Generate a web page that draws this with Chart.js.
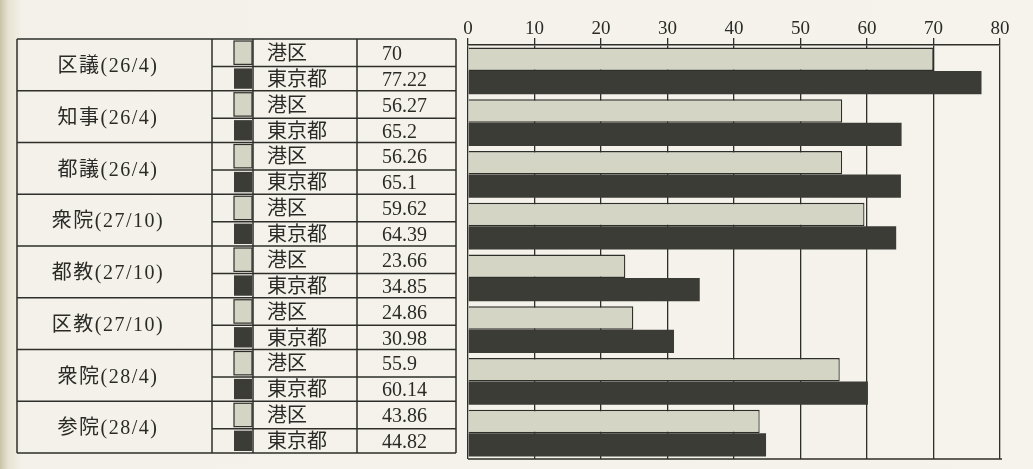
<!DOCTYPE html>
<html><head><meta charset="utf-8">
<script src="https://cdn.jsdelivr.net/npm/chart.js@4"></script>
<style>
html,body{margin:0;padding:0;background:#f4f2ea;}
#wrap{position:relative;width:1033px;height:469px;background:linear-gradient(to right,#c9c3a6 0px,#e6e2d2 8px,#f3f1e9 22px,#f5f3ec 100%);}
canvas{display:block;}
</style></head><body>
<div id="wrap"><canvas id="c" width="1033" height="469"></canvas></div>
<script>
const categories = ['区議(26/4)','知事(26/4)','都議(26/4)','衆院(27/10)','都教(27/10)','区教(27/10)','衆院(28/4)','参院(28/4)'];
const seriesNames = ['港区','東京都'];
const minato = [70, 56.27, 56.26, 59.62, 23.66, 24.86, 55.9, 43.86];
const tokyo = [77.22, 65.2, 65.1, 64.39, 34.85, 30.98, 60.14, 44.82];
const xMin = 0, xMax = 80, xStep = 10;

const LIGHT = '#d5d5c6', DARK = '#3c3c37', LINE = '#2e2e2a';
const SERIF = '"Liberation Serif","Noto Sans CJK JP",serif';

const tablePlugin = {
  id: 'table',
  afterDraw(chart) {
    const ctx = chart.ctx, y = chart.scales.y, area = chart.chartArea;
    const step = y.getPixelForValue(1) - y.getPixelForValue(0);
    const dy = -6;
    const cols = {L0: 17, L1: 212, S0: 233, S1: 253, V0: 357, R: 456};
    ctx.save();
    ctx.strokeStyle = LINE;
    ctx.lineWidth = 1.5;
    const top = y.getPixelForValue(0) - step/2 + dy;
    const bottom = y.getPixelForValue(categories.length-1) + step/2 + dy;
    [cols.L0, cols.L1, cols.S1, cols.V0, cols.R].forEach(x => {
      ctx.beginPath(); ctx.moveTo(x, top); ctx.lineTo(x, bottom); ctx.stroke();
    });
    categories.forEach((cat, i) => {
      const c = y.getPixelForValue(i) + dy;
      const g0 = c - step/2, g1 = c + step/2;
      const mid = c + 1.5;
      ctx.beginPath(); ctx.moveTo(cols.L0, g0); ctx.lineTo(cols.R, g0); ctx.stroke();
      ctx.beginPath(); ctx.moveTo(cols.L1, mid); ctx.lineTo(cols.R, mid); ctx.stroke();
      if (i === categories.length-1) { ctx.beginPath(); ctx.moveTo(cols.L0, g1); ctx.lineTo(cols.R, g1); ctx.stroke(); }
      ctx.fillStyle = '#2a2a26';
      ctx.font = '20px ' + SERIF;
      ctx.textAlign = 'center'; ctx.textBaseline = 'middle';
      ctx.letterSpacing = '1.5px';
      ctx.fillText(cat, 108, c + 2);
      ctx.letterSpacing = '0px';
      const rows = [[seriesNames[0], minato[i], LIGHT], [seriesNames[1], tokyo[i], DARK]];
      rows.forEach((r, k) => {
        const r0 = k === 0 ? g0 : mid, r1 = k === 0 ? mid : g1;
        const rc = (r0 + r1)/2;
        ctx.fillStyle = r[2];
        ctx.fillRect(cols.S0 + 1, r0 + 2, cols.S1 - cols.S0 - 2, r1 - r0 - 4);
        if (k === 0) { ctx.lineWidth = 1.2; ctx.strokeRect(cols.S0 + 1, r0 + 2, cols.S1 - cols.S0 - 2, r1 - r0 - 4); ctx.lineWidth = 1.5; }
        ctx.fillStyle = '#2a2a26';
        ctx.textAlign = 'left';
        ctx.font = '20px ' + SERIF;
        ctx.fillText(r[0], 267, rc + 2);
        ctx.fillText(String(r[1]), 382, rc + 2);
      });
    });
    ctx.beginPath(); ctx.moveTo(area.left, area.bottom); ctx.lineTo(area.right + 2, area.bottom); ctx.stroke();
    ctx.restore();
  }
};

new Chart(document.getElementById('c'), {
  type: 'bar',
  data: {
    labels: categories,
    datasets: [
      {label: seriesNames[0], data: minato, backgroundColor: LIGHT, borderColor: LINE, borderWidth: 1.3, categoryPercentage: 0.9, barPercentage: 1.0},
      {label: seriesNames[1], data: tokyo, backgroundColor: DARK, borderColor: DARK, borderWidth: 0, categoryPercentage: 0.9, barPercentage: 1.0}
    ]
  },
  options: {
    indexAxis: 'y',
    responsive: false,
    animation: false,
    layout: {padding: {left: 468, right: 33, top: 7, bottom: 10}},
    plugins: {legend: {display: false}, tooltip: {enabled: false}},
    scales: {
      x: {
        position: 'top', min: xMin, max: xMax,
        ticks: {stepSize: xStep, color: '#2a2a26', font: {family: SERIF, size: 19}, padding: -2},
        grid: {color: LINE, lineWidth: 1.3, tickLength: 7, drawTicks: true},
        border: {display: true, color: LINE, width: 1.5},
        afterFit(s) { s.height = 38; }
      },
      y: {
        display: false,
        grid: {display: false}
      }
    }
  },
  plugins: [tablePlugin]
});
</script>
</body></html>
